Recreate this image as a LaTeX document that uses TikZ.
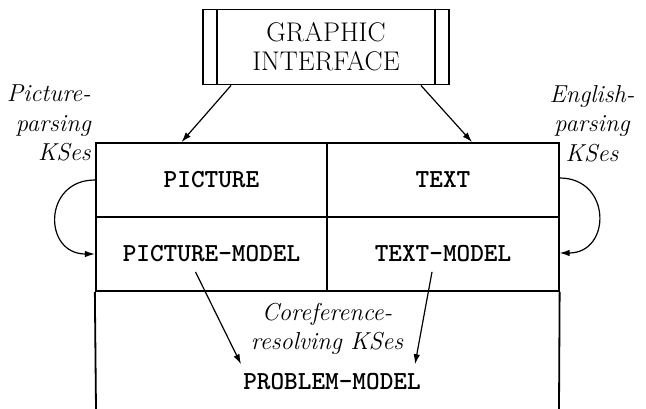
\documentclass[tikz,border=0pt]{standalone}
\usetikzlibrary{arrows.meta,calc}
\begin{document}
\begin{tikzpicture}[x=1pt,y=-1pt,
  boxline/.style={line width=1.8pt},
  cell/.style={draw,boxline,minimum width=231.5pt,minimum height=74pt,inner sep=0pt,
    font=\fontsize{26}{30}\selectfont\ttfamily\bfseries},
  kslabel/.style={font=\fontsize{24.5}{29.5}\selectfont\itshape,inner sep=0pt},
  arr/.style={line width=1.2pt,-{Latex[length=10pt,width=6.5pt]}}]
\useasboundingbox (0,0) rectangle (646,409);
% graphic interface
\node[draw,boxline,minimum width=246pt,minimum height=75pt,inner sep=0pt,align=center,
  font=\fontsize{27}{29}\selectfont] (gi) at (326,47) {GRAPHIC\\INTERFACE};
\draw[boxline] ($(gi.north west)+(15,0)$) -- ($(gi.south west)+(15,0)$);
\draw[boxline] ($(gi.north east)+(-15,0)$) -- ($(gi.south east)+(-15,0)$);
% cells
\node[cell] (pic) at (211.5,180) {PICTURE};
\node[cell] (txt) at (443,180) {TEXT};
\node[cell] (pm) at (211.5,254) {PICTURE-MODEL};
\node[cell] (tm) at (443,254) {TEXT-MODEL};
% open problem-model box
\coordinate (bl) at (96,409);
\coordinate (br) at (559,409);
\draw[boxline] (pm.south west) -- (bl);
\draw[boxline] (tm.south east) -- (br);
\node[font=\fontsize{26}{30}\selectfont\ttfamily\bfseries] (prob) at (332,382) {PROBLEM-MODEL};
% labels
\node[kslabel,align=right,anchor=north east] (lk) at (91,85) {Picture-\\parsing\\KSes};
\node[kslabel,align=center,anchor=north] (rk) at (592,85) {English-\\parsing\\KSes};
\node[kslabel,align=center] (ck) at (327,329) {Coreference-\\resolving KSes};
% arrows from graphic interface
\draw[arr] ($(gi.south west)+(29,0)$) -- ($(pic.north)+(-30,0)$);
\draw[arr] ($(gi.south east)+(-29,0)$) -- ($(txt.north)+(29,0)$);
% self loops
\draw[arr] (pic.west) .. controls +(-52,0) and +(-52,0) .. (pm.west);
\draw[arr] ($(txt.east)+(0,-2)$) .. controls +(52,0) and +(52,0) .. ($(tm.east)+(0,-1)$);
% coreference arrows
\draw[arr] ($(pm.south)+(-16,-20)$) -- ($(prob.north)+(-91,-6)$);
\draw[arr] ($(tm.south)+(-11,-20)$) -- ($(prob.north)+(83,-6)$);
\end{tikzpicture}
\end{document}
